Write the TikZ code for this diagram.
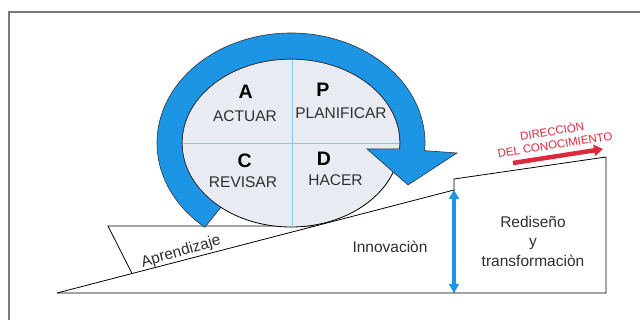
\documentclass[tikz,border=0pt]{standalone}
\usepackage{fontspec}
\setmainfont{Liberation Sans}
\usetikzlibrary{arrows.meta,calc}
\definecolor{bandblue}{HTML}{1C95E4}
\definecolor{quadline}{HTML}{7CCBEF}
\definecolor{ellfill}{HTML}{E9EBF3}
\definecolor{redarr}{HTML}{E0283C}
\definecolor{framegray}{HTML}{7A7A7A}
\definecolor{txt}{HTML}{2F2F2F}
\begin{document}
\begin{tikzpicture}[x=1pt,y=-1pt,
  lbl/.style={font=\fontsize{15.5}{16}\selectfont, text=txt, inner sep=0pt, anchor=base},
  big/.style={font=\fontsize{19.5}{20}\selectfont\bfseries, text=black, inner sep=0pt, anchor=base},
  redlbl/.style={font=\fontsize{11.5}{12}\selectfont, text=redarr, inner sep=0pt, rotate=9},
  ink/.style={draw=black, line width=0.8pt},
  quad/.style={draw=quadline, line width=0.7pt}]
\useasboundingbox (0,0) rectangle (640,320);
% frame
\draw[framegray, line width=1.2pt] (9,320) -- (9,12) -- (640,12);
% ramp and block
\coordinate (b0) at (57,293);
\coordinate (rtop) at (454,190);
\coordinate (bL) at (454,293);
\coordinate (kTL) at (454,179);
\coordinate (kTR) at (606,157);
\coordinate (bR) at (606,293);
\coordinate (wA) at (108,226);
\coordinate (wB) at (132,273.5);
\coordinate (wC) at (315,226);
\draw[ink] (b0) -- (bR) -- (kTR) -- (kTL) -- (bL);
\draw[ink] (b0) -- (rtop);
\draw[ink] (wB) -- (wA) -- (wC);
% ellipse
\coordinate (ec) at (291,143);
\filldraw[fill=ellfill, ink] (ec) ellipse [x radius=109, y radius=84];
\draw[quad] (292,59) -- (292,227);
\draw[quad] (182,143) -- (400,143);
% blue circular arrow
\filldraw[fill=bandblue, draw=black!80, line width=0.6pt]
  ($(ec)+(130:134 and 110)$) arc [start angle=130, end angle=364, x radius=134, y radius=110]
  -- (457,153) -- (408,185) -- (367,149)
  -- ($(ec)+(364:109 and 84)$) arc [start angle=364, end angle=130, x radius=109, y radius=84]
  -- cycle;
% labels in the ellipse
\node[big] (lA) at (245.7,99) {A};
\node[big] (lP) at (323,97) {P};
\node[big] (lC) at (244.7,168) {C};
\node[big] (lD) at (324,166) {D};
\node[lbl] (act) at (245,121.5) {ACTUAR};
\node[lbl] (pla) at (341,119) {PLANIFICAR};
\node[lbl] (rev) at (243,188) {REVISAR};
\node[lbl] (hac) at (335.5,186) {HACER};
% other labels
\node[lbl] (inn) at (390,252.7) {Innovaciòn};
\node[lbl] (red1) at (533,228) {Rediseño};
\node[lbl] (red2) at (533,247) {y};
\node[lbl] (red3) at (533,266.5) {transformaciòn};
\node[lbl, anchor=center, rotate=16] (apr) at (181,252) {Aprendizaje};
\node[redlbl] (dir1) at (552,130.5) {DIRECCIÒN};
\node[redlbl] (dir2) at (555,145) {DEL CONOCIMIENTO};
% arrows
\coordinate (ra0) at (513,163);
\coordinate (ra1) at (603,149);
\draw[redarr, line width=4.5pt, -{Triangle[length=9pt,width=11pt]}] (ra0) -- (ra1);
\draw[bandblue, line width=3.5pt, {Triangle[length=9pt,width=10pt]}-{Triangle[length=9pt,width=10pt]}] (rtop) -- (bL);
\end{tikzpicture}
\end{document}
